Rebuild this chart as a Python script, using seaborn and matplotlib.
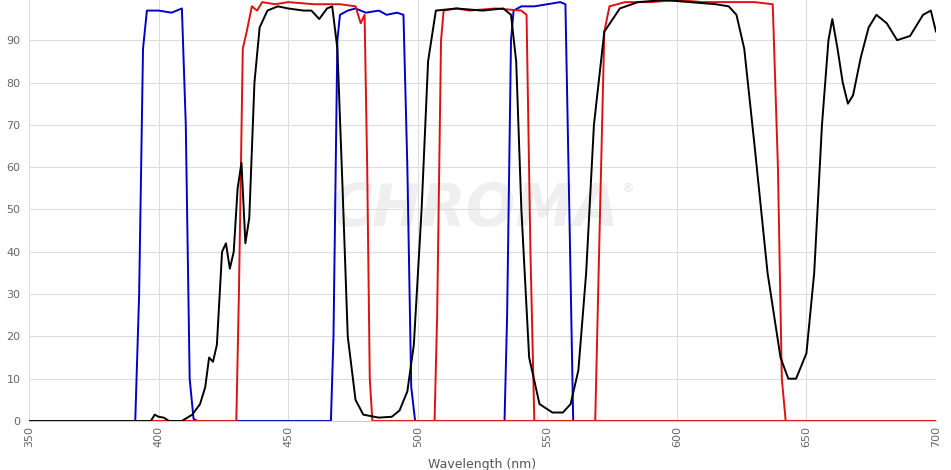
import matplotlib
matplotlib.use("Agg")
import matplotlib.pyplot as plt
import seaborn as sns
import pandas as pd

# transmission curves
blue_wl = [350, 391, 392.5, 394, 395.5, 400, 405, 409, 410.5, 412, 413.5, 415,
           466.5, 467.5, 469, 470, 473, 476, 480, 485, 488, 492, 494.5, 496, 497.5, 499,
           533.5, 534.5, 536, 537, 540, 545, 550, 555, 557, 558.5, 560, 700]
blue_tr = [0, 0, 30, 88, 97, 97, 96.5, 97.5, 70, 10, 0.5, 0,
           0, 20, 90, 96, 97, 97.5, 96.5, 97, 96, 96.5, 96, 60, 8, 0,
           0, 25, 90, 97, 98, 98, 98.5, 99, 98.5, 50, 0, 0]

red_wl = [350, 430, 431, 432.5, 434, 436, 438, 440, 445, 450, 460, 470, 476, 478, 479.5, 480.5, 481.5, 482.5, 700]
red_tr = [0, 0, 30, 88, 92, 98, 97, 99, 98.5, 99, 98.5, 98.5, 98, 94, 96, 60, 10, 0, 0]
red_wl += [506.5, 507.5, 509, 510, 515, 520, 530, 540, 542, 543.5, 545]
red_tr += [0, 25, 90, 97, 97.5, 97, 97.5, 97, 96, 40, 0]
red_wl += [568.5, 570, 572, 574, 580, 590, 600, 610, 620, 630, 637, 639, 640.5, 642]
red_tr += [0, 40, 92, 98, 99, 99, 99.5, 99, 99, 99, 98.5, 60, 10, 0]

black_wl = [350, 397, 398.5, 400, 402, 404, 409, 413, 416, 418, 419.5, 421, 422.5,
            424.5, 426, 427.5, 429, 430.5, 432, 433.5, 435, 437, 439, 442, 446, 450,
            456, 459, 462, 465, 467, 469, 471, 473, 476, 479, 485, 490, 493, 496,
            498.5, 501.5, 504, 507, 515, 525, 533, 536, 538, 540, 543, 547, 552,
            556, 559, 562, 565, 568, 572, 578, 585, 595, 605, 615, 620, 623, 626,
            630, 635, 640, 643, 646, 650, 653, 656, 658.5, 660, 662, 664, 666, 668,
            671, 674, 677, 681, 685, 690, 695, 698, 700]
black_tr = [0, 0, 1.5, 1, 0.8, 0, 0, 1.5, 4, 8, 15, 14, 18,
            40, 42, 36, 40, 55, 61, 42, 48, 80, 93, 97, 98, 97.5,
            97, 97, 95, 97.5, 98, 88, 55, 20, 5, 1.5, 0.8, 1, 2.5, 7,
            18, 50, 85, 97, 97.5, 97, 97.5, 96, 85, 50, 15, 4, 2,
            2, 4, 12, 35, 70, 92, 97.5, 99, 99.5, 99, 98.5, 98, 96, 88,
            65, 35, 15, 10, 10, 16, 35, 70, 90, 95, 88, 80, 75, 77,
            86, 93, 96, 94, 90, 91, 96, 97, 92]

series_names = ["blue", "red", "black"]
series_colors = {"blue": "#0000c8", "red": "#dd1111", "black": "#000000"}

frames = []
for name, wl, tr in [("blue", blue_wl, blue_tr), ("red", red_wl, red_tr), ("black", black_wl, black_tr)]:
    frames.append(pd.DataFrame({"wl": wl, "tr": tr, "curve": name}))
df = pd.concat(frames, ignore_index=True)

sns.set_style("white")
fig = plt.figure(figsize=(9.51, 4.70), dpi=100)
ax = fig.add_axes([29 / 951, 49 / 470, (936 - 29) / 951, 421 / 470])

sns.lineplot(data=df, x="wl", y="tr", hue="curve", palette=series_colors,
             hue_order=series_names, sort=False, estimator=None, linewidth=1.4,
             legend=False, ax=ax)

# watermark
ax.text(522, 50, "CHROMA", fontsize=42, fontweight="bold", style="italic",
        color="#efefef", ha="center", va="center", zorder=0)
ax.text(581, 55, "®", fontsize=9, color="#e6e6e6", ha="center", va="center", zorder=0)

ax.set_xlim(350, 700)
ax.set_ylim(0, 99.5)
ax.set_xticks(range(350, 701, 50))
ax.set_yticks(range(0, 100, 10))
ax.tick_params(axis="x", labelrotation=90, labelsize=8, colors="#666666", length=0)
ax.tick_params(axis="y", labelsize=8, colors="#666666", length=0, pad=6)
ax.grid(True, color="#dddddd", linewidth=0.8)
ax.set_axisbelow(True)
for side in ["top", "right", "left"]:
    ax.spines[side].set_visible(False)
ax.spines["bottom"].set_color("#cccccc")
ax.set_xlabel("Wavelength (nm)", fontsize=9, color="#555555", labelpad=8)
ax.set_ylabel("")

fig.savefig("out.png", dpi=100)
